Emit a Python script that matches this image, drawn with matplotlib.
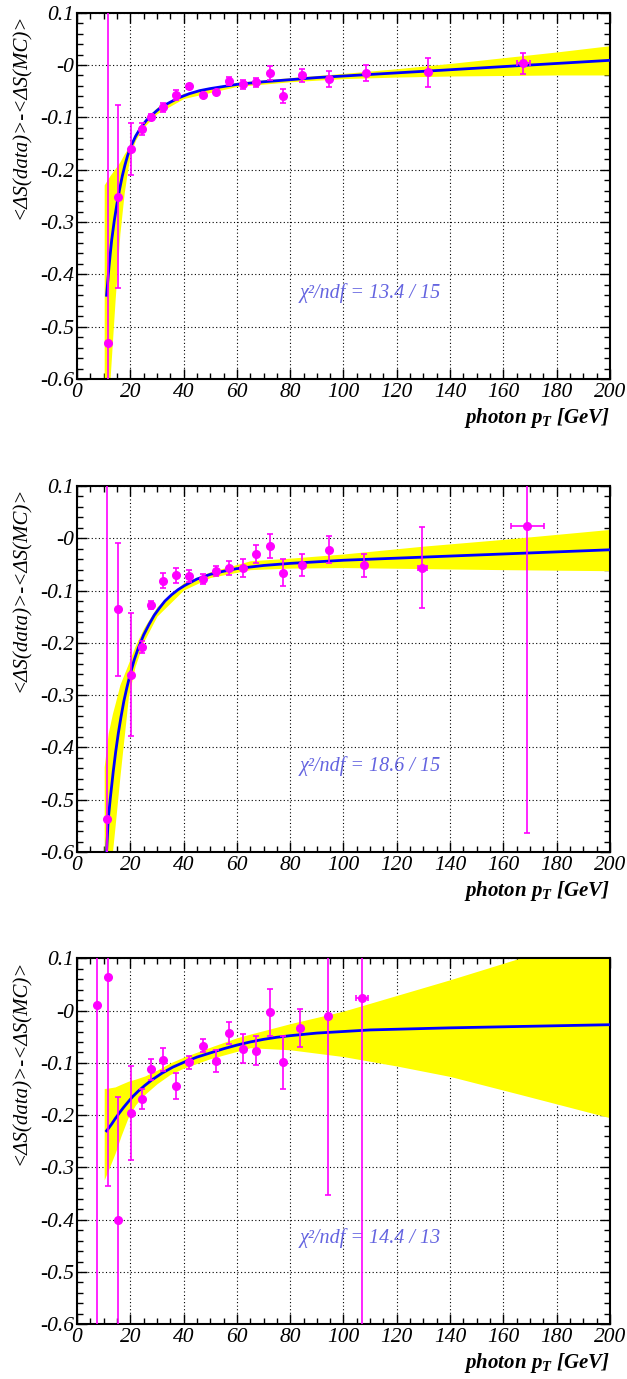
import matplotlib
matplotlib.use("Agg")
import matplotlib.pyplot as plt
from matplotlib.ticker import MultipleLocator, FixedLocator, FixedFormatter

plt.rcParams['font.family'] = ['Liberation Serif', 'DejaVu Serif']
plt.rcParams['mathtext.fontset'] = 'custom'
plt.rcParams['mathtext.it'] = 'Liberation Serif:italic:bold'
plt.rcParams['mathtext.rm'] = 'Liberation Serif:italic:bold'

# ---------------- data: panel 1 ----------------
pt1 = [11.5, 15.5, 20.1, 24.4, 27.8, 32.4, 37.2, 42.2, 47.2, 52.2, 57.2, 62.2,
       67.2, 72.3, 77.2, 84.5, 94.4, 108.3, 131.8, 167.5]
val1 = [-0.532, -0.252, -0.161, -0.122, -0.100, -0.081, -0.057, -0.041, -0.057,
        -0.051, -0.031, -0.037, -0.033, -0.015, -0.059, -0.020, -0.027, -0.015,
        -0.014, 0.003]
err1 = [0.8, 0.175, 0.050, 0.012, 0.006, 0.008, 0.010, 0.005, 0.004, 0.004,
        0.008, 0.009, 0.009, 0.013, 0.014, 0.012, 0.015, 0.015, 0.028, 0.020]
xerr1 = [0, 0, 0, 0, 0, 0, 0, 0, 0, 0, 0, 0, 0, 0, 0, 0, 0, 0, 1.0, 2.5]

fitx1 = [11.1, 11.5, 12, 12.5, 13, 14, 15, 16, 17, 18, 19, 20, 22, 24, 26, 28,
         30, 32, 35, 38, 42, 46, 50, 55, 60, 70, 80, 90, 100, 120, 140, 160,
         180, 200]
fity1 = [-0.440, -0.416, -0.386, -0.360, -0.335, -0.297, -0.265, -0.237, -0.212,
         -0.191, -0.173, -0.158, -0.136, -0.119, -0.106, -0.096, -0.087, -0.079,
         -0.071, -0.063, -0.055, -0.049, -0.045, -0.041, -0.037, -0.032, -0.028,
         -0.024, -0.021, -0.015, -0.009, -0.003, 0.003, 0.009]
bandx1 = [10.2, 12.4, 14.3, 16.1, 17.7, 18.6, 20, 22, 25, 30, 40, 60, 80, 100,
          120, 140, 160, 180, 200]
bandup1 = [-0.229, -0.211, -0.198, -0.185, -0.170, -0.163, -0.150, -0.129,
           -0.107, -0.081, -0.054, -0.033, -0.024, -0.016, -0.007, 0.003, 0.014,
           0.025, 0.037]
bandlo1 = [-0.70, -0.60, -0.449, -0.322, -0.245, -0.214, -0.170, -0.143, -0.119,
           -0.093, -0.064, -0.041, -0.032, -0.026, -0.023, -0.021, -0.020,
           -0.019, -0.019]
chi1 = "χ²/ndf = 13.4 / 15"

# ---------------- data: panel 2 ----------------
pt2 = [11.1, 15.5, 20.1, 24.4, 27.8, 32.4, 37.2, 42.2, 47.2, 52.2, 57.2, 62.2,
       67.2, 72.4, 77.4, 84.5, 94.6, 107.8, 129.6, 169.0]
val2 = [-0.537, -0.136, -0.261, -0.208, -0.128, -0.081, -0.071, -0.072, -0.078,
        -0.0625, -0.057, -0.057, -0.030, -0.015, -0.066, -0.052, -0.022, -0.052,
        -0.056, 0.023]
err2 = [0.8, 0.127, 0.118, 0.011, 0.008, 0.015, 0.015, 0.011, 0.010, 0.010,
        0.013, 0.018, 0.018, 0.023, 0.026, 0.021, 0.026, 0.022, 0.078, 0.586]
xerr2 = [0, 0, 0, 0, 0, 0, 0, 0, 0, 0, 0, 0, 0, 0, 0, 0, 0, 0, 1.6, 6.1]

fitx2 = [11.1, 11.7, 12.5, 13.6, 14.5, 15.5, 16.5, 17.6, 18.7, 19.9, 21.5, 23,
         25, 27, 29, 31, 33, 35.5, 38, 40.5, 45, 50, 55, 60, 70, 80, 90, 100,
         120, 140, 160, 180, 200]
fity2 = [-0.600, -0.539, -0.497, -0.446, -0.409, -0.373, -0.342, -0.311, -0.286,
         -0.261, -0.232, -0.210, -0.185, -0.165, -0.147, -0.133, -0.120, -0.108,
         -0.098, -0.090, -0.078, -0.069, -0.063, -0.058, -0.052, -0.048, -0.045,
         -0.042, -0.038, -0.034, -0.030, -0.026, -0.022]
bandx2 = [10.2, 11.7, 13.3, 14.3, 16.1, 19.3, 21.8, 25, 30, 40, 50, 65, 80, 100,
          130, 160, 200]
bandup2 = [-0.437, -0.373, -0.335, -0.316, -0.280, -0.239, -0.206, -0.172,
           -0.131, -0.085, -0.064, -0.043, -0.038, -0.030, -0.015, -0.002, 0.017]
bandlo2 = [-0.70, -0.70, -0.60, -0.55, -0.456, -0.303, -0.245, -0.198, -0.149,
           -0.099, -0.075, -0.060, -0.057, -0.056, -0.058, -0.060, -0.062]
chi2 = "χ²/ndf = 18.6 / 15"

# ---------------- data: panel 3 ----------------
pt3 = [7.6, 11.5, 15.5, 20.1, 24.4, 27.8, 32.4, 37.2, 42.2, 47.2, 52.2, 57.2,
       62.2, 67.2, 72.3, 77.2, 83.7, 94.3, 107.0]
val3 = [0.011, 0.064, -0.400, -0.196, -0.169, -0.112, -0.094, -0.145, -0.099,
        -0.067, -0.096, -0.043, -0.073, -0.077, -0.003, -0.099, -0.033, -0.010,
        0.025]
err3 = [0.7, 0.40, 0.235, 0.090, 0.019, 0.020, 0.022, 0.025, 0.013, 0.013,
        0.021, 0.021, 0.028, 0.028, 0.045, 0.051, 0.036, 0.342, 0.7]
xerr3 = [0, 0, 0, 0, 0, 0, 0, 0, 0, 0, 0, 0, 0, 0, 0, 0, 0, 0, 2.3]

fitx3 = [11.1, 12, 13, 14.3, 16, 17.5, 19.3, 21, 23, 25.5, 28, 31.8, 36, 40.5,
         45, 50, 55, 60, 65, 70, 75, 80, 90, 100, 110, 125, 140, 160, 180, 200]
fity3 = [-0.230, -0.224, -0.217, -0.207, -0.195, -0.185, -0.174, -0.164, -0.154,
         -0.143, -0.133, -0.120, -0.108, -0.098, -0.089, -0.081, -0.073, -0.066,
         -0.060, -0.055, -0.051, -0.048, -0.043, -0.040, -0.037, -0.035, -0.033,
         -0.031, -0.029, -0.027]
bandx3 = [10.2, 12, 14.3, 16.5, 19.3, 22, 25.5, 30, 35, 40, 50, 60, 65, 80, 100,
          120, 140, 166, 200]
bandup3 = [-0.149, -0.148, -0.146, -0.141, -0.135, -0.131, -0.125, -0.114,
           -0.100, -0.089, -0.070, -0.052, -0.045, -0.025, -0.001, 0.029, 0.059,
           0.100, 0.150]
bandlo3 = [-0.324, -0.302, -0.273, -0.240, -0.203, -0.180, -0.160, -0.140,
           -0.122, -0.110, -0.092, -0.078, -0.071, -0.075, -0.088, -0.106,
           -0.126, -0.160, -0.205]
chi3 = "χ²/ndf = 14.4 / 13"

ytick_vals = [-0.6, -0.5, -0.4, -0.3, -0.2, -0.1, 0.0, 0.1]
ytick_labels = ["-0.6", "-0.5", "-0.4", "-0.3", "-0.2", "-0.1", "-0", "0.1"]
xtick_vals = [0, 20, 40, 60, 80, 100, 120, 140, 160, 180, 200]
xtick_labels = [str(v) for v in xtick_vals]

W, H = 627, 1379
fig = plt.figure(figsize=(W / 100, H / 100), dpi=100)

panels = [
    (12.7, 379.0, pt1, val1, err1, xerr1, fitx1, fity1, bandx1, bandup1, bandlo1, chi1),
    (486.0, 852.0, pt2, val2, err2, xerr2, fitx2, fity2, bandx2, bandup2, bandlo2, chi2),
    (958.3, 1324.3, pt3, val3, err3, xerr3, fitx3, fity3, bandx3, bandup3, bandlo3, chi3),
]

left_px, right_px = 77.0, 610.0

for (top, bot, px, py, pe, pxe, fx, fy, bx, bu, bl, chi) in panels:
    ax = fig.add_axes([left_px / W, 1 - bot / H, (right_px - left_px) / W, (bot - top) / H])
    ax.set_xlim(0, 200)
    ax.set_ylim(-0.6, 0.1)
    ax.set_axisbelow(True)
    ax.grid(True, which='major', color='black', linestyle=(0, (1, 2.2)), lw=0.8)

    ax.fill_between(bx, bl, bu, color='#ffff00', lw=0, zorder=2)
    ax.plot(fx, fy, color='#0000ff', lw=2.0, zorder=3)
    ax.errorbar(px, py, yerr=pe, xerr=pxe, fmt='o', color='#ff00ff', ms=5.5,
                elinewidth=1.2, capsize=2, capthick=1.2, zorder=4)

    ax.xaxis.set_major_locator(FixedLocator(xtick_vals))
    ax.xaxis.set_major_formatter(FixedFormatter(xtick_labels))
    ax.xaxis.set_minor_locator(MultipleLocator(5))
    ax.yaxis.set_major_locator(FixedLocator(ytick_vals))
    ax.yaxis.set_major_formatter(FixedFormatter(ytick_labels))
    ax.yaxis.set_minor_locator(MultipleLocator(0.02))
    ax.tick_params(which='both', direction='in', top=True, right=True, width=1.0)
    ax.tick_params(which='major', length=7)
    ax.tick_params(which='minor', length=4)
    ax.tick_params(axis='x', which='major', pad=3)
    ax.tick_params(axis='y', which='major', pad=2)
    for lab in ax.get_xticklabels() + ax.get_yticklabels():
        lab.set_fontfamily('Liberation Serif')
        lab.set_fontstyle('italic')
        lab.set_fontsize(15.5)
    for sp in ax.spines.values():
        sp.set_linewidth(1.5)

    ax.text(0.418, 0.235, chi, transform=ax.transAxes, ha='left', va='center',
            color='#6464e0', fontsize=14.5, fontstyle='italic',
            fontfamily='Liberation Serif')

    fig.text(22 / W, 1 - (top + 1) / H, "<ΔS(data)>-<ΔS(MC)>", rotation=90,
             ha='center', va='top', fontsize=15, fontstyle='italic',
             fontfamily='Liberation Serif')
    fig.text(right_px / W, 1 - (bot + 44) / H, r"photon $p_{T}$ [GeV]",
             ha='right', va='baseline', fontsize=15, fontstyle='italic',
             fontweight='bold', fontfamily='Liberation Serif')

fig.savefig("out.png", dpi=100)
